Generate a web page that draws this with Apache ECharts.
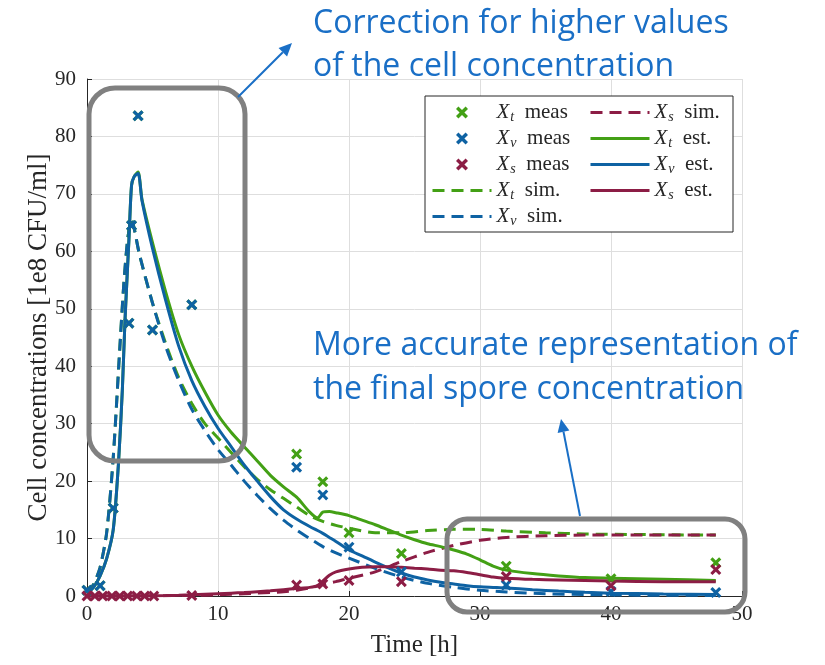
<!DOCTYPE html>
<html><head><meta charset="utf-8">
<script src="https://cdn.jsdelivr.net/npm/echarts/dist/echarts.min.js"></script>
<style>html,body{margin:0;padding:0;background:#fff}#c{width:825px;height:665px}</style>
</head><body><div id="c"></div>
<script>
// ---- data ----
const xTicks = [0, 10, 20, 30, 40, 50];
const yTicks = [0, 10, 20, 30, 40, 50, 60, 70, 80, 90];

const tEst  = [0, 0.5, 1, 1.5, 2, 2.4, 2.7, 2.9, 3.2, 3.4, 3.6, 3.9, 4.2, 5, 6, 7, 8, 9, 10, 11, 12, 13, 14, 15, 16, 17, 17.6, 18, 18.5, 19, 20, 21, 22, 23, 24, 25, 26, 27, 28, 29, 30, 31, 32, 34, 36, 38, 40, 44, 48];
const xtEst = [0.5, 1.5, 3.5, 6.5, 11.5, 23, 36, 48, 62, 71.5, 73, 73.8, 69, 61.5, 53, 45.5, 40, 35.5, 31.5, 28.5, 26, 23.5, 21, 19, 17.2, 14.6, 13.6, 14.6, 14.7, 14.5, 14, 13.2, 12.4, 11.5, 10.6, 9.8, 9.1, 8.6, 8.0, 7.3, 6.3, 5.2, 4.5, 3.9, 3.5, 3.2, 3.1, 2.9, 2.7];
const xvEst = [0.5, 1.5, 3.5, 6.5, 11.5, 23, 36, 48, 62, 71.5, 73, 73.6, 68.8, 60.5, 51.5, 43.5, 37.5, 33, 29.2, 26, 22.8, 20, 17.3, 15, 13.4, 12.1, 11.4, 10.9, 10.2, 9.5, 8, 7, 5.9, 4.9, 4.0, 3.3, 2.8, 2.4, 2.1, 1.8, 1.6, 1.5, 1.4, 1.1, 0.85, 0.65, 0.5, 0.35, 0.25];
const xsEst = [0, 0, 0, 0, 0, 0, 0, 0, 0, 0, 0, 0.02, 0.03, 0.05, 0.08, 0.12, 0.2, 0.3, 0.4, 0.5, 0.6, 0.75, 0.9, 1.1, 1.3, 1.5, 1.8, 2.6, 3.6, 4.2, 4.7, 5.0, 5.1, 5.1, 5.0, 4.85, 4.7, 4.5, 4.4, 4.1, 3.7, 3.3, 3.1, 2.9, 2.8, 2.7, 2.6, 2.5, 2.5];

const tSim  = [0, 0.5, 1, 1.5, 2, 2.5, 2.8, 3.1, 3.4, 3.6, 4, 5, 6, 7, 8, 9, 10, 11, 12, 13, 14, 15, 16, 17, 18, 19, 20, 22, 24, 26, 28, 30, 32, 35, 38, 42, 48];
const xtSim = [0.5, 2, 5, 11, 24, 43, 54, 62, 65.5, 64, 59.5, 51, 44, 38, 33.5, 30, 27.5, 25, 22.5, 20.3, 18.5, 17, 15.5, 14, 13, 12.3, 11.8, 11, 11, 11.4, 11.6, 11.6, 11.3, 11, 10.8, 10.7, 10.6];
const xvSim = [0.5, 2, 5, 11, 24, 43, 54, 62, 65.5, 64, 59.5, 51, 43.5, 37.5, 32.5, 28.8, 25.5, 22.8, 20, 17.5, 15.2, 13.2, 11.5, 10, 8.6, 7.5, 6.6, 4.8, 3.3, 2.2, 1.5, 1.0, 0.7, 0.4, 0.25, 0.15, 0.1];
const xsSim = [0, 0, 0, 0, 0, 0, 0, 0, 0, 0, 0, 0.02, 0.05, 0.08, 0.1, 0.15, 0.2, 0.3, 0.4, 0.5, 0.6, 0.75, 1.0, 1.4, 2.0, 2.5, 3.1, 4.2, 6.0, 7.6, 8.8, 9.7, 10.2, 10.5, 10.6, 10.6, 10.6];

const tMeasV = [0, 1, 2, 3.2, 3.4, 3.9, 5, 8, 16, 18, 20, 24, 32, 40, 48];
const xvMeas = [1.0, 1.8, 15.3, 47.5, 64.5, 83.6, 46.3, 50.7, 22.4, 17.6, 8.5, 4.2, 1.9, 0.8, 0.6];
const tMeasT = [0, 1, 2, 3.2, 3.4, 3.9, 5, 8, 16, 18, 20, 24, 32, 40, 48];
const xtMeas = [1.0, 1.8, 15.3, 47.5, 64.5, 83.6, 46.3, 50.7, 24.7, 19.9, 11.0, 7.4, 5.2, 3.0, 5.8];
const tMeasS = [0, 0.6, 1.2, 1.9, 2.5, 3.1, 3.8, 4.4, 5.1, 8, 16, 18, 20, 24, 32, 40, 48];
const xsMeas = [0, 0, 0, 0, 0, 0, 0, 0, 0, 0.1, 1.9, 2.1, 2.7, 2.5, 3.4, 1.8, 4.6];

// ---- styles ----
const GREEN = '#43a015', BLUE = '#0e62a3', RED = '#8c1d45';
const SERIF = 'Liberation Serif';
const INK = '#262626';
const XSYM = 'path://M2,0 L5,3 L8,0 L10,2 L7,5 L10,8 L8,10 L5,7 L2,10 L0,8 L3,5 L0,2 Z';
const zip = (a, b) => a.map((v, i) => [v, b[i]]);

function scatter(name, t, v, color) {
  return { name, type: 'scatter', data: zip(t, v), symbol: XSYM, symbolSize: 11, symbolKeepAspect: true,
    itemStyle: { color, opacity: 1 }, z: 3, emphasis: { disabled: true } };
}
function line(name, t, v, color, dashed) {
  return { name, type: 'line', data: zip(t, v), symbol: 'none', showSymbol: false, smooth: 0.25,
    lineStyle: { color, width: 3, opacity: 1, type: dashed ? [12, 7] : 'solid' }, itemStyle: { color },
    z: 2, emphasis: { disabled: true } };
}

const legendRich = {
  i: { fontFamily: SERIF, fontStyle: 'italic', fontSize: 21, color: INK, lineHeight: 20 },
  s: { fontFamily: SERIF, fontStyle: 'italic', fontSize: 14, color: INK, padding: [9, 0, 0, 1], lineHeight: 20 },
  r: { fontFamily: SERIF, fontSize: 21, color: INK, lineHeight: 20 }
};
const legendFmt = n => { const p = n.split(' '); return '{i|X}{s|' + p[0].slice(1) + '}{r|  ' + p.slice(1).join(' ') + '}'; };
const legItem = n => n.indexOf('meas') >= 0 ? { name: n, icon: XSYM }
  : { name: n, itemStyle: { opacity: 0 }, lineStyle: { width: 3, type: n.indexOf('sim') >= 0 ? [12, 7] : 'solid' } };
function legend(left, names) {
  return { orient: 'vertical', left, top: 101, itemGap: 3, itemWidth: 59, itemHeight: 12, symbolKeepAspect: true,
    data: names.map(legItem), formatter: legendFmt, textStyle: { rich: legendRich }, selectedMode: false, z: 10, padding: 0 };
}

function arrow(x1, y1, x2, y2, color) {
  const a = Math.atan2(y2 - y1, x2 - x1), L = 13, W = 6;
  const bx = x2 - L * Math.cos(a), by = y2 - L * Math.sin(a);
  return [
    { type: 'line', shape: { x1, y1, x2: bx, y2: by }, style: { stroke: color, lineWidth: 2 }, z: 20 },
    { type: 'polygon', shape: { points: [[x2, y2], [bx + W * Math.sin(a), by - W * Math.cos(a)], [bx - W * Math.sin(a), by + W * Math.cos(a)]] }, style: { fill: color }, z: 20 }
  ];
}
const ANN = '#1a6fc6';
const ANNFONT = '32px "Open Sans"';

const chart = echarts.init(document.getElementById('c'));
chart.setOption({
  animation: false,
  backgroundColor: '#fff',
  grid: { left: 87, right: 83, top: 79, bottom: 69, containLabel: false },
  xAxis: {
    type: 'value', min: xTicks[0], max: xTicks[xTicks.length - 1], interval: 10,
    name: 'Time [h]', nameLocation: 'middle', nameGap: 37,
    nameTextStyle: { fontFamily: SERIF, fontSize: 25, color: INK },
    axisLine: { show: true, onZero: false, lineStyle: { color: INK, width: 1 } },
    axisTick: { show: true, inside: true, length: 5, lineStyle: { color: INK } },
    axisLabel: { fontFamily: SERIF, fontSize: 21, color: INK, margin: 8, formatter: v => xTicks.includes(v) ? String(v) : '' },
    splitLine: { show: true, lineStyle: { color: '#dedede', width: 1 } }
  },
  yAxis: {
    type: 'value', min: yTicks[0], max: yTicks[yTicks.length - 1], interval: 10,
    name: 'Cell concentrations [1e8 CFU/ml]', nameLocation: 'middle', nameGap: 35, nameRotate: 90, nameMoveOverlap: false,
    nameTextStyle: { fontFamily: SERIF, fontSize: 27, color: INK },
    axisLine: { show: true, onZero: false, lineStyle: { color: INK, width: 1 } },
    axisTick: { show: true, inside: true, length: 5, lineStyle: { color: INK } },
    axisLabel: { fontFamily: SERIF, fontSize: 21, color: INK, margin: 11, formatter: v => yTicks.includes(v) ? String(v) : '' },
    splitLine: { show: true, lineStyle: { color: '#dedede', width: 1 } }
  },
  legend: [
    legend(431, ['Xt meas', 'Xv meas', 'Xs meas', 'Xt sim.', 'Xv sim.']),
    legend(589, ['Xs sim.', 'Xt est.', 'Xv est.', 'Xs est.'])
  ],
  series: [
    line('Xt sim.', tSim, xtSim, GREEN, true),
    line('Xv sim.', tSim, xvSim, BLUE, true),
    line('Xs sim.', tSim, xsSim, RED, true),
    line('Xt est.', tEst, xtEst, GREEN, false),
    line('Xv est.', tEst, xvEst, BLUE, false),
    line('Xs est.', tEst, xsEst, RED, false),
    scatter('Xt meas', tMeasT, xtMeas, GREEN),
    scatter('Xv meas', tMeasV, xvMeas, BLUE),
    scatter('Xs meas', tMeasS, xsMeas, RED)
  ],
  graphic: [
    { type: 'rect', shape: { x: 425, y: 96, width: 308, height: 136 }, style: { fill: '#fff', stroke: INK, lineWidth: 1 }, z: 5 },
    { type: 'rect', shape: { x: 89, y: 88, width: 156, height: 373, r: 26 }, style: { fill: 'none', stroke: '#808080', lineWidth: 5 }, z: 20 },
    { type: 'rect', shape: { x: 447, y: 519, width: 298, height: 93, r: 20 }, style: { fill: 'none', stroke: '#808080', lineWidth: 5 }, z: 20 },
    { type: 'text', left: 313, top: 2, style: { text: 'Correction for higher values\nof the cell concentration', font: ANNFONT, fill: ANN, lineHeight: 43 }, z: 20 },
    { type: 'text', left: 313, top: 324, style: { text: 'More accurate representation of\nthe final spore concentration', font: ANNFONT, fill: ANN, lineHeight: 44 }, z: 20 },
    ...arrow(238, 97, 292, 43, ANN),
    ...arrow(580, 516, 561, 419, ANN)
  ]
});
</script></body></html>
